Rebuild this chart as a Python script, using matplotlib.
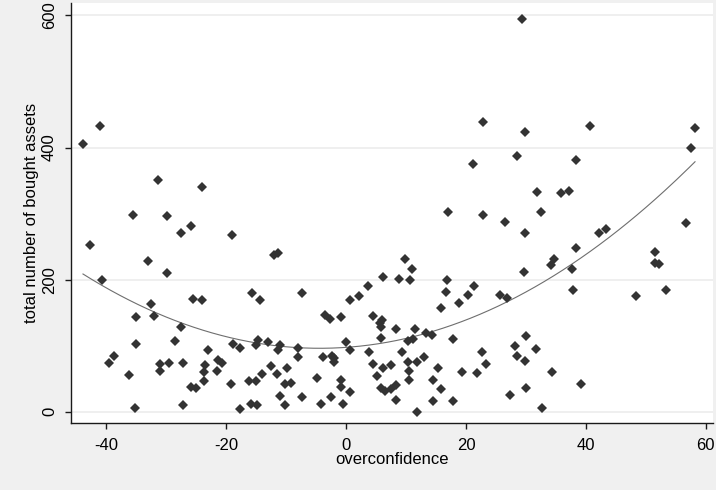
import numpy as np
import matplotlib
matplotlib.use("Agg")
import matplotlib.pyplot as plt

# overconfidence (x) and total number of bought assets (y)
overconf = [-43.9, -41.0, -31.4, -24.1, -35.6, -29.9,
            -27.5, -25.9, -19.1, -42.8, -33.1, -29.9, -40.8, -32.6, -35.0, -32.1,
            -25.5, -24.1, -15.7, -14.4, -27.5, -28.6, -35.0, -38.8, -39.5, -36.3,
            -35.2, -31.1, -31.1, -29.5, -27.2, -23.0, -23.5, -23.7, -23.7, -21.3,
            -20.7, -21.5, -25.8, -25.1, -27.2, -18.9, -17.7, -19.2, -17.7, -16.2,
            -15.0, -15.9, -14.9, -14.7, -15.1,
            -12.1, -11.3, -7.3, -3.6, -2.7, -0.9, 0.7, 2.1, 3.6, 6.1, 9.8, 11.0,
            8.9, 10.7, 16.9, 16.7, 15.8, 4.5, 5.6, 5.9, 5.8, 8.3, 11.5, 10.3, 11.2,
            13.4, 14.3, 5.8, -13.1, -11.0, -11.3, -8.1, -8.1, -0.1, 0.7, -3.9, -2.3,
            -2.0, -2.0, 3.8, 9.4, 13.0, -12.6, -11.5, -9.9, -14.1, -10.2, -9.2, -4.8,
            -0.9, -0.9, 0.7, 4.5, 5.1, 6.1, 7.4, 10.4, 11.8, 10.5, 10.5, 15.4, 14.5,
            15.8, 5.8, 6.5, 7.4, 8.3, 8.3, -11.1, -10.2, -7.3, -4.2, -2.6, -0.6,
            11.8, 14.5,
            17.0, 22.9, 26.5, 32.5, 29.8, 56.7, 42.2, 43.3, 38.4, 34.7, 34.2, 37.6,
            29.6, 51.6, 51.6, 52.2, 53.3, 48.3, 37.8, 21.4, 20.3, 18.9, 25.6, 26.9,
            17.8, 30.0, 28.1, 28.5, 29.8, 31.6, 22.7, 23.4, 19.4, 21.8, 34.3, 39.2,
            30.0, 27.4, 17.8, 32.7,
            29.4, 22.9, 29.8, 40.7, 58.2, 57.6, 28.5, 21.2, 38.3, 31.8, 35.8, 37.2]

assets = [406, 433, 351, 340, 298, 297,
          270, 281, 268, 252, 228, 210, 199, 163, 143, 145,
          171, 169, 180, 170, 129, 107, 103, 85, 74, 56,
          6, 73, 62, 74, 74, 93, 71, 60, 46, 79,
          74, 62, 38, 36, 10, 103, 97, 42, 4, 46,
          46, 12, 10, 109, 101,
          237, 240, 180, 146, 141, 143, 170, 176, 190, 204, 232, 216,
          201, 199, 199, 182, 157, 145, 135, 139, 129, 125, 125, 107, 111,
          119, 117, 112, 105, 101, 93, 97, 83, 105, 93, 83, 85,
          81, 75, 91, 91, 83, 69, 57, 67, 57, 42, 44, 52,
          48, 38, 30, 73, 54, 67, 71, 75, 75, 62, 48, 67, 48,
          34, 36, 32, 34, 40, 18, 24, 10, 22, 12, 22, 12,
          0, 16,
          303, 298, 288, 302, 270, 286, 270, 276, 248, 232, 222, 216,
          212, 242, 226, 224, 184, 176, 184, 191, 177, 165, 177, 173,
          111, 115, 99, 85, 77, 95, 91, 73, 61, 59, 61, 42,
          36, 26, 16, 6,
          595, 439, 423, 433, 429, 399, 387, 375, 381, 333, 331, 335]

x = np.array(overconf)
y = np.array(assets)

# quadratic fit like Stata's qfit
coef = np.polyfit(x, y, 2)
xf = np.linspace(x.min(), x.max(), 200)
yf = np.polyval(coef, xf)

plt.rcParams['font.family'] = ['Liberation Sans', 'DejaVu Sans']
plt.rcParams['axes.unicode_minus'] = False

fig = plt.figure(figsize=(7.16, 4.90), dpi=100)
fig.patch.set_facecolor('#f0f0f0')
ax = fig.add_axes([71 / 716, (490 - 422.7) / 490, 642 / 716, (422.7 - 3.5) / 490])
ax.set_facecolor('white')

ax.plot(x, y, 'D', color='#333333', markersize=5.6, markeredgewidth=0, zorder=3)
ax.plot(xf, yf, '-', color='#6e6e6e', linewidth=0.8, zorder=2)

ax.set_xlim(-45.9, 61.2)
ax.set_ylim(-16.4, 618)
ax.set_xticks([-40, -20, 0, 20, 40, 60])
ax.set_yticks([0, 200, 400, 600])
ax.set_yticklabels(['0', '200', '400', '600'], rotation=90, va='center')
ax.grid(axis='y', color='#ececec', linewidth=1.2)
ax.set_axisbelow(True)

for s in ['top', 'right']:
    ax.spines[s].set_visible(False)
for s in ['left', 'bottom']:
    ax.spines[s].set_color('#1a1a1a')
    ax.spines[s].set_linewidth(1.0)
ax.tick_params(direction='out', length=4, width=1, color='#1a1a1a', labelsize=12)
ax.tick_params(axis='x', pad=7)
ax.tick_params(axis='y', pad=6)

ax.set_xlabel('overconfidence', fontsize=12, labelpad=-1)
ax.set_ylabel('total number of bought assets', fontsize=12, labelpad=2)

fig.savefig('out.png', dpi=100, facecolor=fig.get_facecolor())
